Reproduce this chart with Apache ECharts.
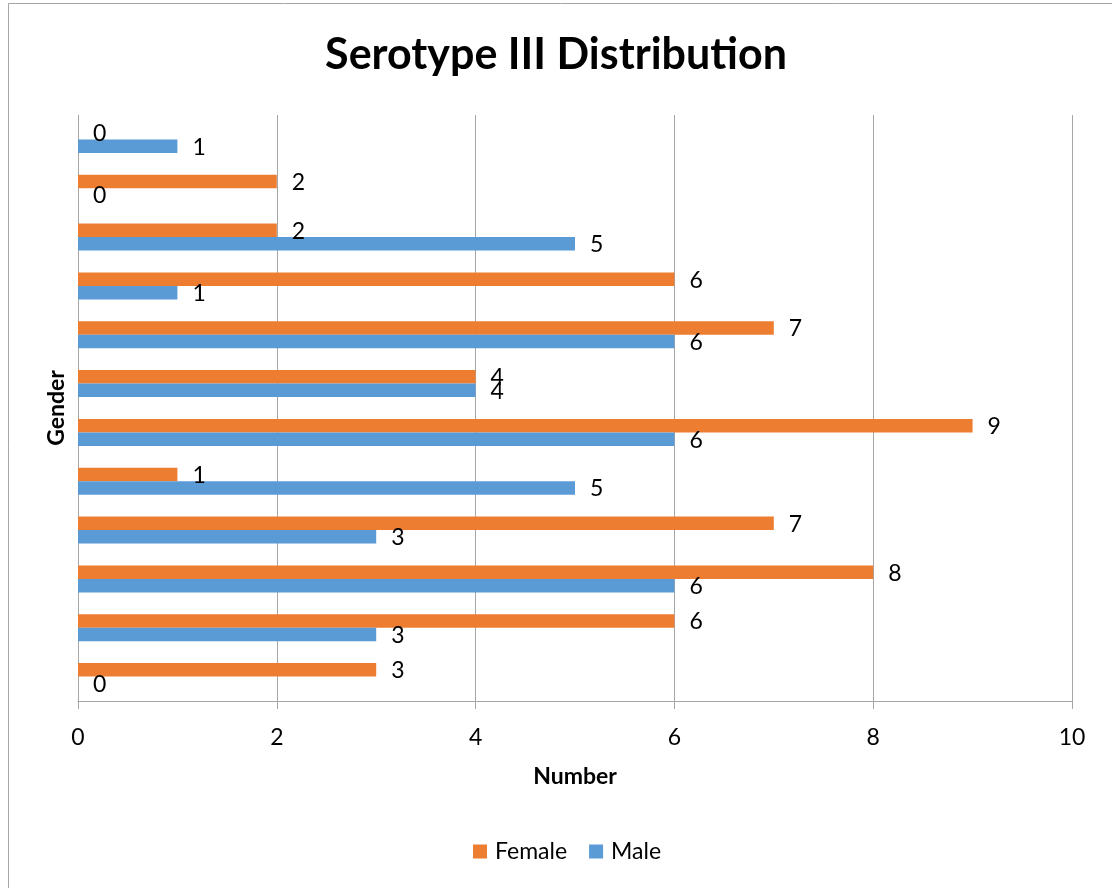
<!DOCTYPE html>
<html>
<head>
<meta charset="utf-8">
<script src="https://cdn.jsdelivr.net/npm/echarts@6/dist/echarts.min.js"></script>
<style>
html,body{margin:0;padding:0;background:#fff;}
#chart{width:1112px;height:888px;}
</style>
</head>
<body>
<div id="chart"></div>
<script>
// Categories listed bottom to top (ECharts category y-axis starts at bottom)
var categories = ['G12','G11','G10','G9','G8','G7','G6','G5','G4','G3','G2','G1'];
var femaleValues = [3, 6, 8, 7, 1, 9, 4, 7, 6, 2, 2, 0];
var maleValues   = [0, 3, 6, 3, 5, 6, 4, 6, 1, 5, 0, 1];
var xTicks = [0, 2, 4, 6, 8, 10];

var FONT = 'Lato, Carlito, "Open Sans", sans-serif';
var chart = echarts.init(document.getElementById('chart'), null, {renderer: 'canvas'});
chart.setOption({
  backgroundColor: '#fff',
  animation: false,
  title: {
    text: 'Serotype III Distribution',
    left: 'center',
    top: 29,
    textStyle: {fontFamily: FONT, fontWeight: 'bold', fontSize: 43, color: '#000'}
  },
  graphic: [{
    type: 'rect',
    shape: {x: 8.5, y: 3.5, width: 1200, height: 1000},
    style: {fill: 'none', stroke: '#a6a6a6', lineWidth: 1},
    silent: true
  }],
  legend: {
    data: ['Female', 'Male'],
    left: 468,
    top: 835,
    itemWidth: 14,
    itemHeight: 14,
    itemGap: 22,
    icon: 'rect',
    textStyle: {fontFamily: FONT, fontSize: 23, color: '#000', padding: [0, 0, 0, 3]}
  },
  grid: {left: 78, right: 40, top: 115, bottom: 187, containLabel: false},
  xAxis: {
    type: 'value',
    min: 0,
    max: 10,
    interval: 2,
    name: 'Number',
    nameLocation: 'middle',
    nameGap: 64,
    nameTextStyle: {fontFamily: FONT, fontWeight: 'bold', fontSize: 23, color: '#000'},
    axisLine: {show: true, lineStyle: {color: '#a6a6a6', width: 1}},
    axisTick: {show: true, inside: false, length: 8, lineStyle: {color: '#a6a6a6'}},
    axisLabel: {
      fontFamily: FONT, fontSize: 23, color: '#000', margin: 25,
      formatter: function (v) { return xTicks.indexOf(v) >= 0 ? String(v) : ''; }
    },
    splitLine: {show: true, lineStyle: {color: '#a6a6a6', width: 1}}
  },
  yAxis: {
    type: 'category',
    data: categories,
    name: 'Gender',
    nameLocation: 'middle',
    nameGap: 10,
    nameRotate: 90,
    nameTextStyle: {fontFamily: FONT, fontWeight: 'bold', fontSize: 23, color: '#000'},
    axisLine: {show: true, lineStyle: {color: '#a6a6a6', width: 1}},
    axisTick: {show: false},
    axisLabel: {show: false},
    splitLine: {show: false}
  },
  series: [
    {
      name: 'Female',
      type: 'bar',
      data: femaleValues,
      barWidth: 13.5,
      barGap: '0%',
      itemStyle: {color: '#ED7D31'},
      label: {show: true, position: 'right', distance: 15, fontFamily: FONT, fontSize: 23, color: '#000', offset: [0, 1]}
    },
    {
      name: 'Male',
      type: 'bar',
      data: maleValues,
      barWidth: 13.5,
      barGap: '0%',
      itemStyle: {color: '#5B9BD5'},
      label: {show: true, position: 'right', distance: 15, fontFamily: FONT, fontSize: 23, color: '#000', offset: [0, 1]}
    }
  ]
});
</script>
</body>
</html>
